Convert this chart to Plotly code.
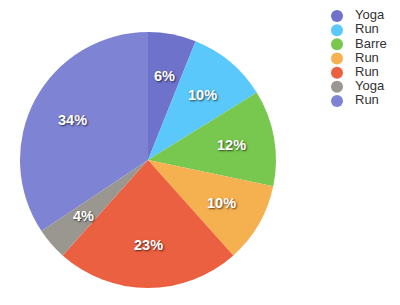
import numpy as np
import plotly.graph_objects as go

labels = ["Yoga", "Run", "Barre", "Run", "Run", "Yoga", "Run"]
values = [6, 10, 12, 10, 23, 4, 34]
colors = ["#6E72CB", "#5AC8FA", "#78C850", "#F5B04F", "#EB6040", "#9A9690", "#7E84D3"]

W, H = 400, 305
dom_x = [0.05, 0.69]
dom_y = [0.0557, 0.895]

fig = go.Figure()
fig.add_trace(go.Pie(
    labels=[f"{l}_{i}" for i, l in enumerate(labels)],
    values=values,
    sort=False,
    direction="clockwise",
    rotation=0,
    marker=dict(colors=colors, line=dict(width=0)),
    textinfo="none",
    hoverinfo="skip",
    showlegend=False,
    domain=dict(x=dom_x, y=dom_y),
))

# percentage labels placed at mid-angle of each slice
vals = np.array(values, dtype=float)
frac = vals / vals.sum()
cum = np.cumsum(frac) - frac / 2
cx, cy = sum(dom_x) / 2, sum(dom_y) / 2
r_px = min((dom_x[1] - dom_x[0]) * W, (dom_y[1] - dom_y[0]) * H) / 2
rl = 0.665 * r_px
for f, m in zip(frac, cum):
    ang = 2 * np.pi * m
    fig.add_annotation(
        x=cx + rl * np.sin(ang) / W, y=cy + rl * np.cos(ang) / H,
        xref="paper", yref="paper", xanchor="center", yanchor="middle",
        showarrow=False,
        text=f"{round(f * 100):.0f}%",
        font=dict(family="Liberation Sans, Arial, sans-serif", size=14.5, color="white",
                  weight="bold", shadow="1px 1px 2px rgba(0,0,0,0.65)"),
    )

# legend drawn as markers + text
ys = list(range(len(labels)))
fig.add_trace(go.Scatter(
    x=[17] * len(labels), y=ys, mode="markers",
    marker=dict(color=colors, size=12, symbol="circle"),
    hoverinfo="skip", showlegend=False, cliponaxis=False,
))
fig.add_trace(go.Scatter(
    x=[35] * len(labels), y=ys, mode="text", text=labels, textposition="middle right",
    textfont=dict(family="Liberation Sans, Arial, sans-serif", size=13, color="#333"),
    hoverinfo="skip", showlegend=False, cliponaxis=False,
))

fig.update_layout(
    width=W, height=H,
    margin=dict(l=0, r=0, t=0, b=0),
    paper_bgcolor="white", plot_bgcolor="rgba(0,0,0,0)",
    xaxis=dict(visible=False, domain=[0.8, 1.0], range=[0, 80], fixedrange=True),
    yaxis=dict(visible=False, domain=[0.6456, 0.9708], range=[6.5, -0.5], fixedrange=True),
    showlegend=False,
)

fig.write_html("out.html")
